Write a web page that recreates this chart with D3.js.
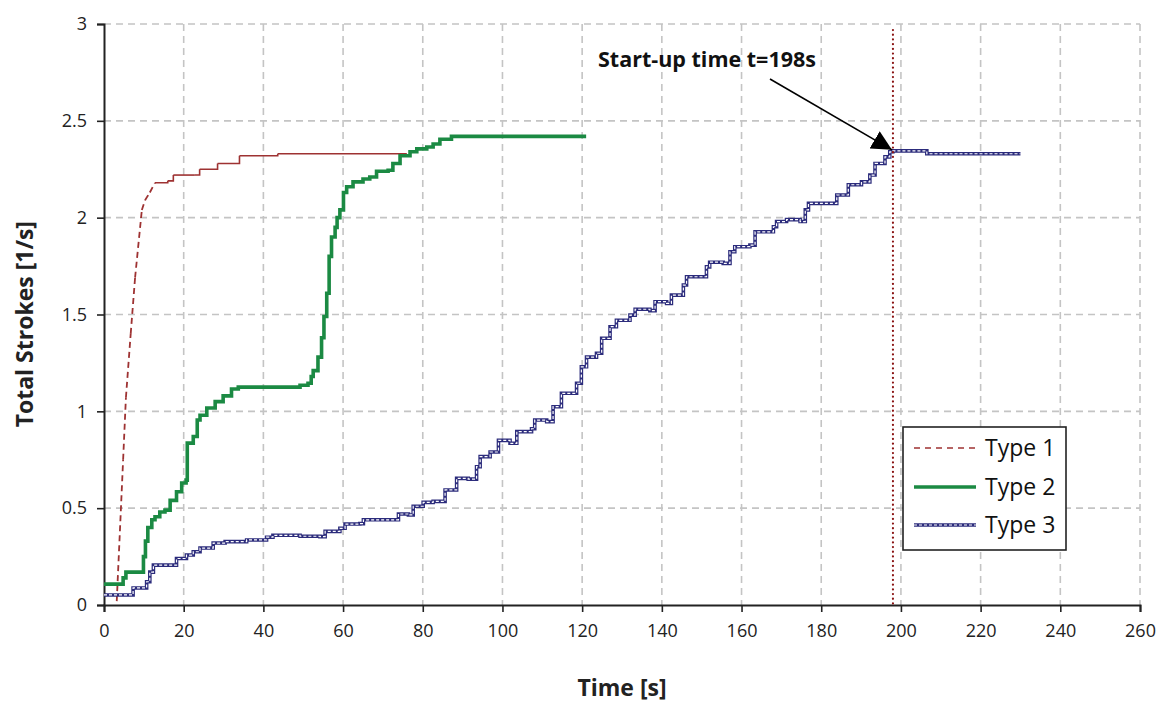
<!DOCTYPE html>
<html>
<head>
<meta charset="utf-8">
<script src="https://cdn.jsdelivr.net/npm/d3@7"></script>
<style>
  html, body { margin: 0; padding: 0; background: #fff; }
  svg { display: block; }
  text { font-family: "Open Sans", "Liberation Sans", sans-serif; }
</style>
</head>
<body>
<svg id="chart" width="1163" height="703"></svg>
<script>
// ---------- data ----------
const xTicks = [0,20,40,60,80,100,120,140,160,180,200,220,240,260];
const yTicks = [0,0.5,1,1.5,2,2.5,3];
const yTickLabels = ["0","0.5","1","1.5","2","2.5","3"];
const seriesNames = ["Type 1","Type 2","Type 3"];

const type1T = [3.2,4.8,5.5,6.7,7.8,9.5,10.3,11.5,12.8,16,17.4,22.8,24,28.5,34,43.6,76];
const type1Y = [0.02,0.75,1.07,1.40,1.69,2.04,2.09,2.13,2.18,2.19,2.22,2.22,2.25,2.28,2.32,2.33,2.33];

const type2T = [0,4.8,5.5,9.9,10.4,11,12,12.8,14,15.3,16.6,18.2,19.5,20.6,20.9,22.4,23.4,24.1,25.8,27.9,29.9,32,33.7,49.2,51.2,52,52.5,53.7,54.6,55.2,55.9,56.5,57.1,58,58.5,59.2,60.1,60.9,62.5,65,66.7,68.4,71.3,72.5,74.3,76.8,78.5,81,82.6,84.3,87.2,121];
const type2Y = [0.108,0.14,0.17,0.25,0.33,0.40,0.44,0.456,0.48,0.49,0.54,0.585,0.63,0.645,0.836,0.87,0.955,0.98,1.017,1.05,1.08,1.115,1.125,1.135,1.145,1.18,1.21,1.28,1.38,1.49,1.61,1.80,1.90,1.95,2.0,2.04,2.13,2.16,2.185,2.20,2.21,2.24,2.245,2.28,2.32,2.34,2.355,2.365,2.38,2.405,2.42,2.42];

const type3T = [0,7.3,10.7,11.5,12.4,18.2,20.7,22.4,24.1,27.4,30.4,35.8,40.8,42.4,49.2,54.2,55.5,59.2,60.5,64.2,65.1,72.6,73.9,76.4,77.6,80.1,82.6,85.6,88.5,91.4,93.5,94.4,96.9,99,101.9,103.6,107.3,108.1,111.1,112.7,114.8,118.6,119.8,121.1,123.6,124.9,127,128.6,132,133.3,137,138.3,141.2,142.4,145.4,146.2,151.2,152,155.4,157.1,158.3,162.1,163.4,168,168.8,171.3,174.7,176,176.8,183.9,186.8,190.1,192.2,193.5,196,197.2,198,206.5,230];
const type3Y = [0.052,0.088,0.12,0.17,0.206,0.24,0.258,0.275,0.294,0.32,0.327,0.336,0.35,0.36,0.355,0.353,0.38,0.396,0.418,0.42,0.44,0.44,0.47,0.465,0.51,0.53,0.535,0.594,0.654,0.65,0.714,0.766,0.79,0.85,0.835,0.895,0.91,0.955,0.947,1.024,1.093,1.145,1.23,1.28,1.30,1.377,1.437,1.47,1.497,1.527,1.52,1.566,1.557,1.60,1.652,1.695,1.746,1.77,1.764,1.824,1.85,1.858,1.927,1.953,1.98,1.99,1.98,2.04,2.074,2.117,2.17,2.185,2.22,2.28,2.314,2.34,2.345,2.33,2.33];

const startupTime = 198;
const annotationText = "Start-up time t=198s";
const xTitle = "Time [s]";
const yTitle = "Total Strokes [1/s]";

// ---------- layout ----------
const svg = d3.select("#chart");
const x = d3.scaleLinear().domain([0,260]).range([104,1140]);
const y = d3.scaleLinear().domain([0,3]).range([605,24]);

const gridColor = "#c4c4c4";
const red = "#9e3232", green = "#1b8a43", navy = "#2c2c7c", dotRed = "#8b1414";

// grid
svg.append("g").selectAll("line.v").data(xTicks.slice(1)).join("line")
  .attr("x1", d => x(d)).attr("x2", d => x(d)).attr("y1", y(3)).attr("y2", y(0))
  .attr("stroke", gridColor).attr("stroke-width", 1.6).attr("stroke-dasharray", "7,5");
svg.append("g").selectAll("line.h").data(yTicks.slice(1)).join("line")
  .attr("x1", x(0)).attr("x2", x(260)).attr("y1", d => y(d)).attr("y2", d => y(d))
  .attr("stroke", gridColor).attr("stroke-width", 1.6).attr("stroke-dasharray", "7,5");

// axes
const xAxis = d3.axisBottom(x).tickValues(xTicks).tickSize(7).tickPadding(12).tickFormat(d3.format("d"));
const yAxis = d3.axisLeft(y).tickValues(yTicks).tickSize(7).tickPadding(10).tickFormat((d,i) => yTickLabels[i]);
const gx = svg.append("g").attr("transform", `translate(0,${y(0)})`).call(xAxis);
const gy = svg.append("g").attr("transform", `translate(${x(0)},0)`).call(yAxis);
[gx, gy].forEach(g => {
  g.select(".domain").attr("stroke", "#222").attr("stroke-width", 2);
  g.selectAll(".tick line").attr("stroke", "#222").attr("stroke-width", 1.6);
  g.selectAll(".tick text").attr("fill", "#222").style("font-size", "18px")
    .style("font-family", "'Open Sans', sans-serif");
});

// axis titles
svg.append("text").attr("x", x(130)).attr("y", 696).attr("text-anchor", "middle")
  .style("font-size", "23px").style("font-weight", "bold").attr("fill", "#222").text(xTitle);
svg.append("text").attr("transform", `translate(33,${y(1.45)}) rotate(-90)`).attr("text-anchor", "middle")
  .style("font-size", "23px").style("font-weight", "bold").attr("fill", "#222").text(yTitle);

// ---------- series ----------
const stepLine = d3.line().x(d => x(d[0])).y(d => y(d[1])).curve(d3.curveStepAfter);

// Type 1: steep rise drawn dashed, stepped plateau drawn solid
const t1 = type1T.map((t,i) => [t, type1Y[i]]);
const g1 = svg.append("g");
for (let i = 0; i < t1.length - 1; i++) {
  const a = t1[i], b = t1[i+1];
  const dy = b[1] - a[1], dt = b[0] - a[0];
  if (dy > 0.035 && dt < 2) {
    g1.append("line").attr("x1", x(a[0])).attr("x2", x(b[0])).attr("y1", y(a[1])).attr("y2", y(b[1]))
      .attr("stroke", red).attr("stroke-width", 1.8).attr("stroke-dasharray", "6,4");
  } else {
    g1.append("path").datum([a, b]).attr("d", stepLine).attr("fill", "none")
      .attr("stroke", red).attr("stroke-width", 1.6);
  }
}

// Type 2
const t2 = type2T.map((t,i) => [t, type2Y[i]]);
svg.append("path").datum(t2).attr("d", stepLine).attr("fill", "none")
  .attr("stroke", green).attr("stroke-width", 3.6);

// Type 3: hollow textured line
const t3 = type3T.map((t,i) => [t, type3Y[i]]);
svg.append("path").datum(t3).attr("d", stepLine).attr("fill", "none")
  .attr("stroke", navy).attr("stroke-width", 3.6);
svg.append("path").datum(t3).attr("d", stepLine).attr("fill", "none")
  .attr("stroke", "#fff").attr("stroke-width", 1.2).attr("stroke-dasharray", "3,2");

// start-up vertical dotted line
svg.append("line").attr("x1", x(startupTime)).attr("x2", x(startupTime))
  .attr("y1", 30).attr("y2", y(0))
  .attr("stroke", dotRed).attr("stroke-width", 2.2).attr("stroke-dasharray", "0.1,4.6").attr("stroke-linecap", "round");

// annotation
const defs = svg.append("defs");
defs.append("marker").attr("id", "arrow").attr("viewBox", "0 0 10 10").attr("refX", 10).attr("refY", 5)
  .attr("markerWidth", 20).attr("markerHeight", 20).attr("markerUnits", "userSpaceOnUse")
  .attr("orient", "auto")
  .append("path").attr("d", "M0,0 L10,5 L0,10 Z").attr("fill", "#000");
svg.append("line").attr("x1", 770).attr("y1", 79).attr("x2", x(startupTime) - 1).attr("y2", y(2.345) - 1)
  .attr("stroke", "#000").attr("stroke-width", 1.6).attr("marker-end", "url(#arrow)");
svg.append("text").attr("x", 598).attr("y", 67).style("font-size", "21.5px").style("font-weight", "bold")
  .attr("fill", "#111").text(annotationText);

// ---------- legend ----------
const lg = svg.append("g");
lg.append("rect").attr("x", 903).attr("y", 427).attr("width", 163).attr("height", 123)
  .attr("fill", "#fff").attr("stroke", "#222").attr("stroke-width", 1.6);
const rows = [448, 487, 525];
rows.forEach((ry, i) => {
  if (i === 0) {
    lg.append("line").attr("x1", 914).attr("x2", 976).attr("y1", ry).attr("y2", ry)
      .attr("stroke", red).attr("stroke-width", 1.6).attr("stroke-dasharray", "6,5");
  } else if (i === 1) {
    lg.append("line").attr("x1", 914).attr("x2", 976).attr("y1", ry).attr("y2", ry)
      .attr("stroke", green).attr("stroke-width", 3.6);
  } else {
    lg.append("line").attr("x1", 914).attr("x2", 976).attr("y1", ry).attr("y2", ry)
      .attr("stroke", navy).attr("stroke-width", 3.6);
    lg.append("line").attr("x1", 914).attr("x2", 976).attr("y1", ry).attr("y2", ry)
      .attr("stroke", "#fff").attr("stroke-width", 1.2).attr("stroke-dasharray", "3,2");
  }
  lg.append("text").attr("x", 985).attr("y", ry + 8).style("font-size", "23px")
    .attr("fill", "#111").text(seriesNames[i]);
});
</script>
</body>
</html>
